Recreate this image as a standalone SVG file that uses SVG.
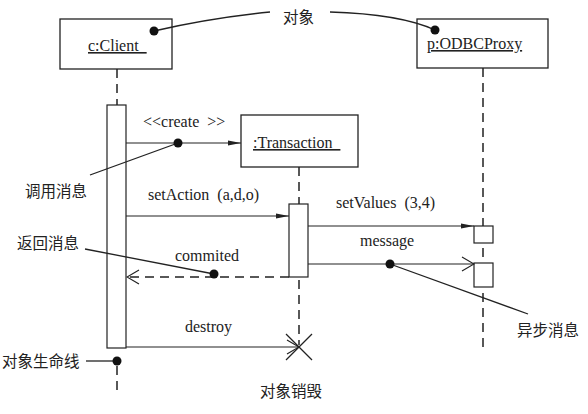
<svg xmlns="http://www.w3.org/2000/svg" width="588" height="414" viewBox="0 0 588 414">
<defs>
<style>
.box{fill:#fff;stroke:#222;stroke-width:1.3}
.act{fill:#fff;stroke:#222;stroke-width:1.2}
.life{stroke:#222;stroke-width:1.5;stroke-dasharray:9,6;fill:none}
.msg{stroke:#222;stroke-width:1.2;fill:none}
.ret{stroke:#222;stroke-width:1.3;stroke-dasharray:9,6;fill:none}
.note{stroke:#222;stroke-width:1.3;fill:none}
.en{font-family:"Liberation Serif","Times New Roman",serif;font-size:16px;fill:#222;white-space:pre}
.cn{font-family:"Noto Sans CJK SC","Noto Sans CJK JP",sans-serif;font-size:15.5px;fill:#222}
.dot{fill:#111}
</style>
<marker id="filled" markerWidth="14" markerHeight="8" refX="13" refY="4" orient="auto" markerUnits="userSpaceOnUse">
<path d="M0,1.5 L13,4 L0,6.5 Z" fill="#222"/>
</marker>
<marker id="open" markerWidth="14" markerHeight="16" refX="13" refY="8" orient="auto" markerUnits="userSpaceOnUse">
<path d="M1,1 L13,8 L1,15" fill="none" stroke="#222" stroke-width="1.2"/>
</marker>
</defs>
<rect width="588" height="414" fill="#fff"/>

<g id="lifelines">
<line class="life" x1="117" y1="69" x2="117" y2="105"/>
<line class="life" x1="117" y1="366" x2="117" y2="392"/>
<line class="life" x1="299" y1="167" x2="299" y2="204"/>
<line class="life" x1="299" y1="280" x2="299" y2="345"/>
<line class="life" x1="483" y1="68" x2="483" y2="350"/>
</g>

<g id="client">
<rect class="box" x="60" y="19" width="112" height="50"/>
<text class="en" x="88" y="51" text-decoration="underline">c:Client  </text>
</g>
<g id="odbcproxy">
<rect class="box" x="417" y="19" width="131" height="49"/>
<text class="en" x="427" y="49" text-decoration="underline">p:ODBCProxy</text>
</g>
<g id="transaction">
<rect class="box" x="241" y="115" width="117" height="52"/>
<text class="en" x="253" y="148" text-decoration="underline">:Transaction  </text>
</g>

<g id="activations">
<rect class="act" x="107" y="105" width="19" height="243"/>
<rect class="act" x="289" y="204" width="19" height="73"/>
<rect class="act" x="474" y="226" width="19" height="17"/>
<rect class="act" x="474" y="263" width="19" height="24"/>
</g>

<g id="connectors">
<line class="msg" x1="126" y1="143" x2="241" y2="143" marker-end="url(#filled)"/>
<line class="msg" x1="126" y1="216" x2="289" y2="216" marker-end="url(#filled)"/>
<line class="msg" x1="308" y1="226" x2="474" y2="226" marker-end="url(#filled)"/>
<line class="msg" x1="308" y1="264" x2="474" y2="264" marker-end="url(#open)"/>
<line class="ret" x1="289" y1="277" x2="127" y2="277" marker-end="url(#open)"/>
<line class="msg" x1="126" y1="347" x2="299" y2="347" marker-end="url(#open)"/>
<line class="note" x1="286" y1="334" x2="312" y2="360"/>
<line class="note" x1="286" y1="360" x2="312" y2="334"/>
</g>

<g id="labels">
<text class="en" x="143" y="127">&lt;&lt;create  &gt;&gt;</text>
<text class="en" x="148" y="200">setAction  (a,d,o)</text>
<text class="en" x="336" y="208">setValues  (3,4)</text>
<text class="en" x="360" y="246">message</text>
<text class="en" x="175" y="261">commited</text>
<text class="en" x="185" y="332">destroy</text>
</g>

<g id="annotations">
<path class="note" d="M154,31 Q210,18 270,12"/>
<circle class="dot" cx="154" cy="31" r="4.5"/>
<path class="note" d="M330,12 Q400,14 435,30"/>
<circle class="dot" cx="435" cy="30" r="4.5"/>
<text class="cn" x="283" y="23">对象</text>
<line class="note" x1="178" y1="143" x2="90" y2="175"/>
<circle class="dot" cx="178" cy="143" r="4.5"/>
<text class="cn" x="25" y="197">调用消息</text>
<line class="note" x1="85" y1="249" x2="214" y2="274"/>
<circle class="dot" cx="214" cy="274" r="4.5"/>
<text class="cn" x="17" y="249">返回消息</text>
<line class="note" x1="390" y1="264" x2="528" y2="314"/>
<circle class="dot" cx="390" cy="264" r="4.5"/>
<text class="cn" x="517" y="336">异步消息</text>
<line class="note" x1="86" y1="361" x2="117" y2="361"/>
<circle class="dot" cx="117" cy="361" r="4.5"/>
<text class="cn" x="2" y="367">对象生命线</text>
<text class="cn" x="260" y="397">对象销毁</text>
</g>
</svg>
